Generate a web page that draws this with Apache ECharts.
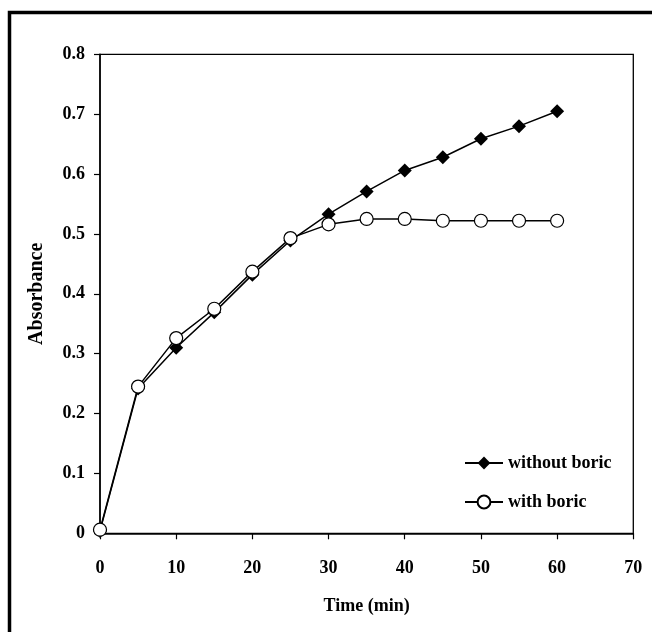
<!DOCTYPE html>
<html>
<head>
<meta charset="utf-8">
<script src="https://cdn.jsdelivr.net/npm/echarts@6/dist/echarts.min.js"></script>
<style>
html,body{margin:0;padding:0;background:#fff;}
#chart{width:652px;height:632px;}
</style>
</head>
<body>
<div id="chart"></div>
<script>
var timeMin = [0, 5, 10, 15, 20, 25, 30, 35, 40, 45, 50, 55, 60];
var withoutBoric = [0.004, 0.242, 0.310, 0.369, 0.432, 0.489, 0.533, 0.571, 0.606, 0.628, 0.659, 0.680, 0.705];
var withBoric = [0.006, 0.245, 0.326, 0.375, 0.437, 0.493, 0.516, 0.525, 0.525, 0.522, 0.522, 0.522, 0.522];
var seriesNames = ['without boric', 'with boric'];

function pairs(xs, ys) { return xs.map(function (x, i) { return [x, ys[i]]; }); }

var font = { fontFamily: 'Liberation Serif', fontWeight: 'bold', fontSize: 18, color: '#000' };

var chart = echarts.init(document.getElementById('chart'), null, { renderer: 'canvas' });
chart.setOption({
  animation: false,
  backgroundColor: '#fff',
  graphic: [{
    type: 'rect',
    shape: { x: 9.5, y: 12.5, width: 720, height: 720 },
    style: { fill: 'none', stroke: '#000', lineWidth: 3.5 },
    silent: true
  }],
  grid: {
    left: 100, top: 54.3, right: 18.7, bottom: 98.7,
    show: true, borderColor: '#000', borderWidth: 1.3, backgroundColor: 'transparent'
  },
  legend: {
    left: 459, top: 449, orient: 'vertical',
    itemWidth: 38, itemHeight: 16, itemGap: 21,
    textStyle: font,
    data: seriesNames
  },
  xAxis: {
    type: 'value', min: 0, max: 70, interval: 10,
    name: 'Time (min)', nameLocation: 'middle', nameGap: 64,
    nameTextStyle: font,
    axisLine: { lineStyle: { color: '#000', width: 1.5 } },
    axisTick: { show: true, length: 6, lineStyle: { color: '#000', width: 1.2 } },
    axisLabel: Object.assign({ margin: 26 }, font),
    splitLine: { show: false }
  },
  yAxis: {
    type: 'value', min: 0, max: 0.8, interval: 0.1,
    name: 'Absorbance', nameLocation: 'middle', nameGap: 53,
    nameTextStyle: Object.assign({}, font, { fontSize: 20 }),
    axisLine: { lineStyle: { color: '#000', width: 1.5 } },
    axisTick: { show: true, length: 6, lineStyle: { color: '#000', width: 1.2 } },
    axisLabel: Object.assign({ margin: 15, formatter: function (v) { return v === 0 ? '0' : v.toFixed(1); } }, font),
    splitLine: { show: false }
  },
  series: [{
    name: seriesNames[0], type: 'line',
    data: pairs(timeMin, withoutBoric),
    symbol: 'diamond', symbolSize: 14,
    lineStyle: { color: '#000', width: 1.5 },
    itemStyle: { color: '#000', borderColor: '#000', borderWidth: 0 }
  }, {
    name: seriesNames[1], type: 'line',
    data: pairs(timeMin, withBoric),
    symbol: 'circle', symbolSize: 13,
    lineStyle: { color: '#000', width: 1.5 },
    itemStyle: { color: '#fff', borderColor: '#000', borderWidth: 1.2 }
  }]
});
</script>
</body>
</html>
